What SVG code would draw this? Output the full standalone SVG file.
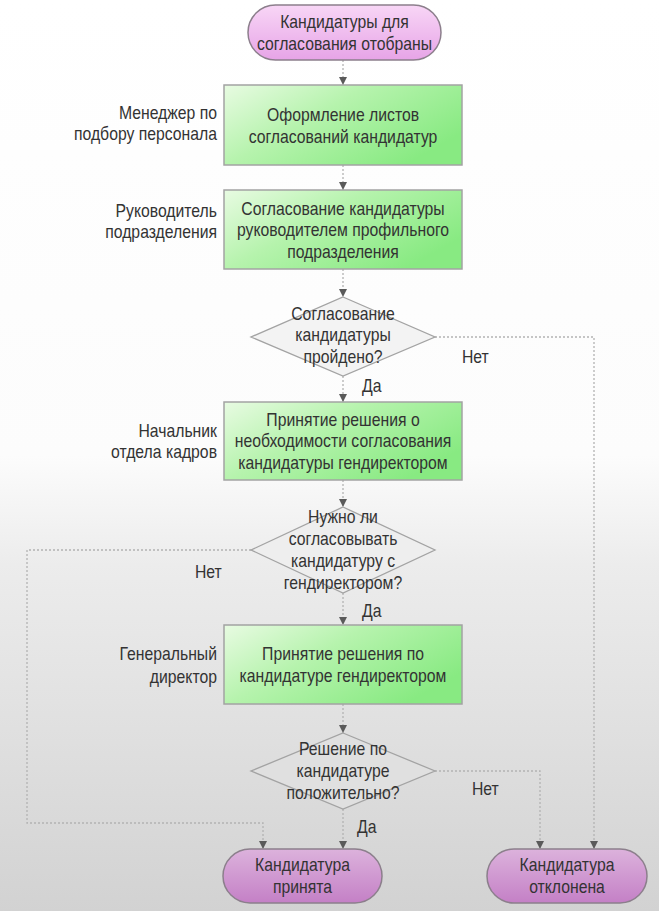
<svg xmlns="http://www.w3.org/2000/svg" width="659" height="911" viewBox="0 0 659 911">
<defs>
<linearGradient id="bg" x1="0" y1="0" x2="0" y2="1">
<stop offset="0" stop-color="#ffffff"/>
<stop offset="0.5" stop-color="#fcfcfc"/>
<stop offset="0.62" stop-color="#ececec"/>
<stop offset="0.8" stop-color="#e0e0e0"/>
<stop offset="1" stop-color="#d2d2d2"/>
</linearGradient>
<linearGradient id="green" x1="0" y1="0" x2="1" y2="0.6">
<stop offset="0" stop-color="#e8fbe2"/>
<stop offset="0.45" stop-color="#b6f3ad"/>
<stop offset="1" stop-color="#88ea82"/>
</linearGradient>
<linearGradient id="termT" x1="0" y1="0" x2="0" y2="1">
<stop offset="0" stop-color="#f8d6f6"/>
<stop offset="1" stop-color="#e7a4e7"/>
</linearGradient>
<linearGradient id="termB" x1="0" y1="0" x2="0" y2="1">
<stop offset="0" stop-color="#dcb2dc"/>
<stop offset="1" stop-color="#c480c6"/>
</linearGradient>
<marker id="arr" markerUnits="userSpaceOnUse" markerWidth="9" markerHeight="9" refX="8" refY="4" orient="auto">
<path d="M0,0 L8,4 L0,8 z" fill="#5a5a5a"/>
</marker>
</defs>
<style>
text{font-family:"Liberation Sans",Arial,sans-serif;font-size:19px;fill:#333333}
.t{text-anchor:middle}
.l{text-anchor:end}
.a{text-anchor:start}
.box{fill:url(#green);stroke:#a3a3a3;stroke-width:1.5}
.dia{stroke:#a3a3a3;stroke-width:1.3}
.term{stroke:#8c7f8c;stroke-width:1.5}
.c{fill:none;stroke:#b3b3b3;stroke-width:1.3;stroke-dasharray:2 2;marker-end:url(#arr)}
</style>
<rect x="0" y="0" width="659" height="911" fill="url(#bg)"/>

<g id="connectors">
<path class="c" d="M343,60 V85"/>
<path class="c" d="M343,165 V190"/>
<path class="c" d="M343,269 V297"/>
<path class="c" d="M343,376 V402"/>
<path class="c" d="M343,480 V507"/>
<path class="c" d="M343,593 V625"/>
<path class="c" d="M343,704 V733"/>
<path class="c" d="M343,809 V849"/>
<path class="c" d="M435,771 H540 V849"/>
<path class="c" d="M435,337 H594 V849"/>
<path class="c" d="M251,550 H27 V823 H263 V849"/>
<text class="a" transform="translate(362 392) scale(0.83 1)">Да</text>
<text class="a" transform="translate(462 363) scale(0.83 1)">Нет</text>
<text class="a" transform="translate(195 578) scale(0.83 1)">Нет</text>
<text class="a" transform="translate(362 617) scale(0.83 1)">Да</text>
<text class="a" transform="translate(472 795) scale(0.83 1)">Нет</text>
<text class="a" transform="translate(357 833) scale(0.83 1)">Да</text>
</g>

<g id="start">
<rect class="term" x="248" y="5" width="193" height="55" rx="27.5" fill="url(#termT)"/>
<g transform="translate(344.5 0) scale(0.83 1)">
<text class="t" y="28.5">Кандидатуры для</text>
<text class="t" y="50">согласования отобраны</text>
</g>
</g>

<g id="box1">
<rect class="box" x="224" y="85" width="238" height="80"/>
<g transform="translate(343 0) scale(0.83 1)">
<text class="t" y="121">Оформление листов</text>
<text class="t" y="143">согласований кандидатур</text>
</g>
<g transform="translate(217 0) scale(0.83 1)">
<text class="l" y="119">Менеджер по</text>
<text class="l" y="140">подбору персонала</text>
</g>
</g>

<g id="box2">
<rect class="box" x="224" y="190" width="238" height="79"/>
<g transform="translate(343 0) scale(0.83 1)">
<text class="t" y="215">Согласование кандидатуры</text>
<text class="t" y="236.5">руководителем профильного</text>
<text class="t" y="258">подразделения</text>
</g>
<g transform="translate(217 0) scale(0.83 1)">
<text class="l" y="217">Руководитель</text>
<text class="l" y="238">подразделения</text>
</g>
</g>

<g id="decision1">
<polygon class="dia" points="343,297 435,337 343,376 251,337" fill="#f3f3f3"/>
<g transform="translate(343 0) scale(0.83 1)">
<text class="t" y="320">Согласование</text>
<text class="t" y="341.5">кандидатуры</text>
<text class="t" y="363">пройдено?</text>
</g>
</g>

<g id="box3">
<rect class="box" x="224" y="402" width="238" height="78"/>
<g transform="translate(343 0) scale(0.83 1)">
<text class="t" y="426">Принятие решения о</text>
<text class="t" y="447.5">необходимости согласования</text>
<text class="t" y="469">кандидатуры гендиректором</text>
</g>
<g transform="translate(217 0) scale(0.83 1)">
<text class="l" y="437">Начальник</text>
<text class="l" y="458">отдела кадров</text>
</g>
</g>

<g id="decision2">
<polygon class="dia" points="343,507 435,550 343,593 251,550" fill="#eeeeee"/>
<g transform="translate(343 0) scale(0.83 1)">
<text class="t" y="523.5">Нужно ли</text>
<text class="t" y="545.5">согласовывать</text>
<text class="t" y="567.5">кандидатуру с</text>
<text class="t" y="589.5">гендиректором?</text>
</g>
</g>

<g id="box4">
<rect class="box" x="224" y="625" width="238" height="79"/>
<g transform="translate(343 0) scale(0.83 1)">
<text class="t" y="660">Принятие решения по</text>
<text class="t" y="682">кандидатуре гендиректором</text>
</g>
<g transform="translate(217 0) scale(0.83 1)">
<text class="l" y="660">Генеральный</text>
<text class="l" y="683">директор</text>
</g>
</g>

<g id="decision3">
<polygon class="dia" points="343,733 435,771 343,809 251,771" fill="#e0e0e0"/>
<g transform="translate(343 0) scale(0.83 1)">
<text class="t" y="755">Решение по</text>
<text class="t" y="777">кандидатуре</text>
<text class="t" y="799">положительно?</text>
</g>
</g>

<g id="accepted">
<rect class="term" x="223" y="849" width="159" height="54" rx="27" fill="url(#termB)"/>
<g transform="translate(302.5 0) scale(0.83 1)">
<text class="t" y="871.5">Кандидатура</text>
<text class="t" y="893">принята</text>
</g>
</g>

<g id="rejected">
<rect class="term" x="487" y="849" width="160" height="54" rx="27" fill="url(#termB)"/>
<g transform="translate(567 0) scale(0.83 1)">
<text class="t" y="871.5">Кандидатура</text>
<text class="t" y="893">отклонена</text>
</g>
</g>
</svg>
